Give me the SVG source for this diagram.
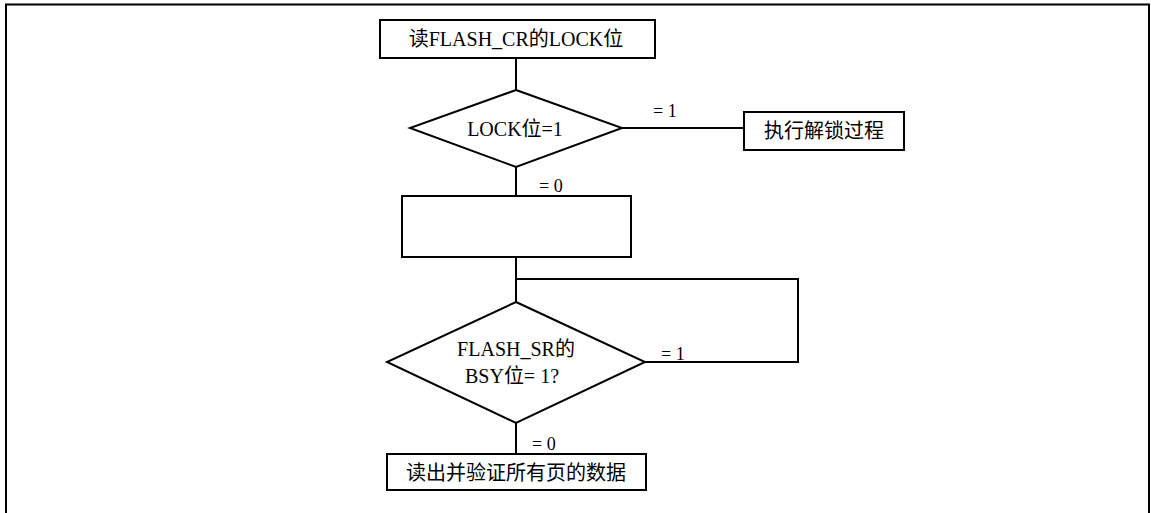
<svg xmlns="http://www.w3.org/2000/svg" width="1151" height="513" viewBox="0 0 1151 513">
<style>
.s{fill:#fff;stroke:#000;stroke-width:2}
.c{fill:none;stroke:#000;stroke-width:2}
.m{text-anchor:middle;font-size:20px}
</style>
<rect width="1151" height="513" fill="#fff"/>
<path d="M6,513 V4.5 H1149 V513" fill="none" stroke="#000" stroke-width="2"/>
<g font-family="'Liberation Serif', 'Times New Roman', 'Noto Sans CJK SC', serif" font-size="18" fill="#000">
<g id="connectors">
<path class="c" d="M516,58 V90"/>
<path class="c" d="M622,128 H744"/>
<path class="c" d="M516,167 V196"/>
<path class="c" d="M516,257 V302"/>
<path class="c" d="M516,279 H798 V362 H645"/>
<path class="c" d="M516,423 V454"/>
<text x="653" y="117">= 1</text>
<text x="539" y="192">= 0</text>
<text x="661" y="360">= 1</text>
<text x="532" y="450">= 0</text>
</g>
<g id="n1"><rect class="s" x="380" y="20" width="275" height="38"/><text class="m" x="516" y="46">读FLASH_CR的LOCK位</text></g>
<g id="n2"><path class="s" d="M516,90 L622,128 L516,167 L410,128 Z"/><text class="m" x="515" y="136">LOCK位=1</text></g>
<g id="n3"><rect class="s" x="744" y="112" width="160" height="38"/><text class="m" x="824" y="138">执行解锁过程</text></g>
<g id="n4"><rect class="s" x="402" y="196" width="229" height="61"/></g>
<g id="n5"><path class="s" d="M516,302 L645,362 L516,423 L387,362 Z"/><text class="m" x="516" y="356">FLASH_SR的</text><text class="m" x="512" y="383">BSY位= 1?</text></g>
<g id="n6"><rect class="s" x="387" y="454" width="259" height="36"/><text class="m" x="516" y="480">读出并验证所有页的数据</text></g>
</g>
</svg>
